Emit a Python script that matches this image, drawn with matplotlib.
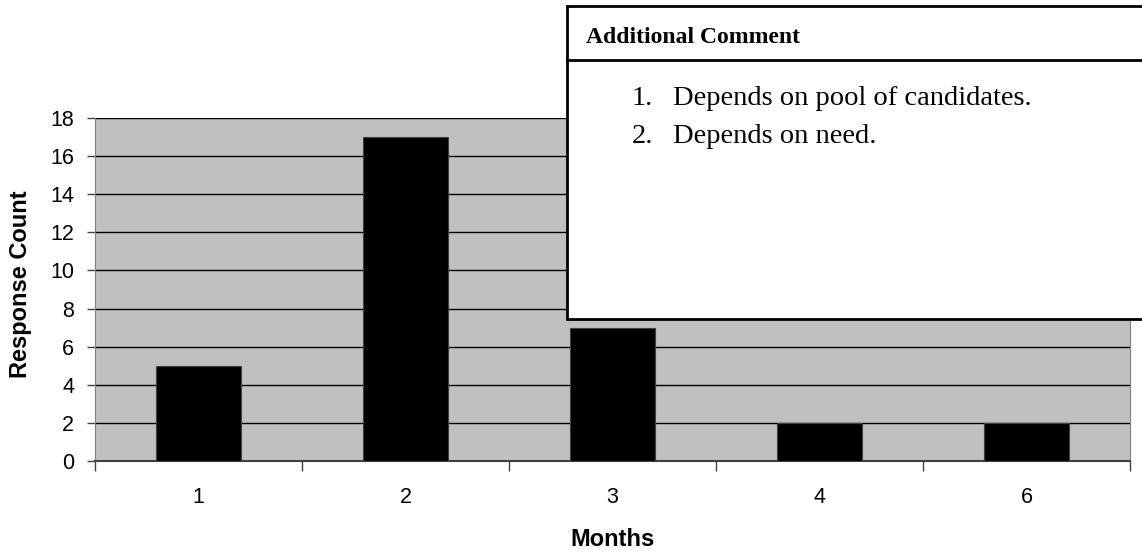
import matplotlib.pyplot as plt
from matplotlib.patches import Rectangle
from matplotlib.lines import Line2D
import numpy as np

# dados do gráfico
meses = ["1", "2", "3", "4", "6"]
respostas = [5, 17, 7, 2, 2]
comentarios = ["Depends on pool of candidates.", "Depends on need."]

W, H = 1142, 554
fig = plt.figure(figsize=(W / 100, H / 100), dpi=100)
plt.rcParams['font.family'] = 'Liberation Sans'

# eixo em pixels: x 95..1130, y 118..461
ax = fig.add_axes([95 / W, 1 - 461 / H, (1130 - 95) / W, (461 - 118) / H])
ax.set_facecolor('#c0c0c0')

x = np.arange(len(meses))
ax.bar(x, respostas, width=0.41, color='black', edgecolor='#404040', linewidth=0.8, zorder=3)

ax.set_xlim(-0.5, len(meses) - 0.5)
ax.set_ylim(0, 18)
ax.set_yticks(np.arange(0, 19, 2))
ax.yaxis.grid(True, color='black', linewidth=1.0, zorder=1)
ax.set_axisbelow(True)

ax.set_xticks(np.arange(-0.5, len(meses), 1.0))
ax.set_xticklabels([])
ax.set_xticks(x, minor=True)
ax.set_xticklabels(meses, minor=True)
ax.tick_params(axis='x', which='major', length=7, width=1, color='#404040', direction='out')
ax.tick_params(axis='x', which='minor', length=0, pad=19, labelsize=15.5)
ax.tick_params(axis='y', length=6, width=1, color='#404040', labelsize=15.5, pad=9)

ax.spines['top'].set_visible(False)
ax.spines['left'].set_color('#808080')
ax.spines['right'].set_color('#808080')
ax.spines['bottom'].set_color('#404040')
ax.spines['bottom'].set_linewidth(1.5)

ax.set_xlabel('Months', fontsize=17, fontweight='bold')
ax.set_ylabel('Response Count', fontsize=17, fontweight='bold')
ax.xaxis.set_label_coords(0.5, (461 - 540) / 343)
ax.yaxis.set_label_coords((21 - 95) / 1035, 0.515)
ax.xaxis.label.set_va('center')
ax.yaxis.label.set_va('center')

# caixa de comentário
bx0, by0, by1, bsep = 567, 6, 319, 60
fig.patches.append(Rectangle((bx0 / W, 1 - by1 / H), (W + 20 - bx0) / W, (by1 - by0) / H,
                             transform=fig.transFigure, facecolor='white', edgecolor='black',
                             linewidth=2, zorder=10))
fig.lines.append(Line2D([bx0 / W, 1], [1 - bsep / H, 1 - bsep / H], transform=fig.transFigure,
                        color='black', linewidth=2, zorder=11))
fig.text(586 / W, 1 - 43 / H, 'Additional Comment', family='Liberation Serif', fontweight='bold',
         fontsize=17, va='baseline', ha='left', zorder=12)
for i, c in enumerate(comentarios):
    yy = 1 - (105 + 38 * i) / H
    fig.text(632 / W, yy, f"{i + 1}.", family='Liberation Serif', fontsize=20.5, va='baseline', ha='left', zorder=12)
    fig.text(673 / W, yy, c, family='Liberation Serif', fontsize=20.5, va='baseline', ha='left', zorder=12)

fig.savefig('out.png', dpi=100)
